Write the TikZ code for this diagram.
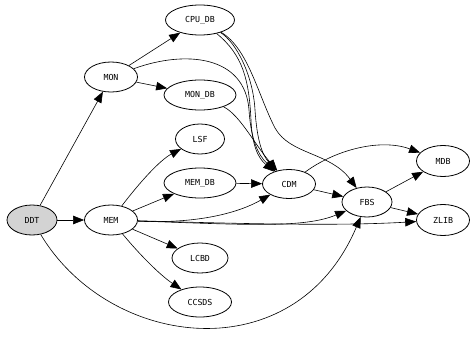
\documentclass[tikz,border=0pt]{standalone}
\usepackage{fontspec}
\usepackage{tikz}
\usetikzlibrary{arrows.meta,shapes.geometric}
\newfontfamily\modfont{DejaVu Sans Mono}
\definecolor{ddtgray}{RGB}{211,211,211}

\tikzset{
  mod/.style={ellipse,draw,line width=0.8pt,inner sep=0pt,font=\modfont\fontsize{8.3}{9}\selectfont,
    minimum height=30pt},
  dep/.style={line width=0.6pt,-{Triangle[length=11pt,width=8.5pt]}}
}

\begin{document}
\begin{tikzpicture}[x=1pt,y=-1pt]
\useasboundingbox (0,0) rectangle (474,340);
% modules
\node[mod,fill=ddtgray,minimum width=50pt] (DDT) at (32,220) {DDT};
\node[mod,minimum width=53pt] (MON) at (111,77) {MON};
\node[mod,minimum width=53pt] (MEM) at (111,220) {MEM};
\node[mod,minimum width=69pt] (CPU_DB) at (200,20) {CPU\_DB};
\node[mod,minimum width=72pt] (MON_DB) at (200,95) {MON\_DB};
\node[mod,minimum width=49pt] (LSF) at (200,139) {LSF};
\node[mod,minimum width=72pt] (MEM_DB) at (200,183) {MEM\_DB};
\node[mod,minimum width=56pt] (LCBD) at (200,258) {LCBD};
\node[mod,minimum width=63pt] (CCSDS) at (200,302) {CCSDS};
\node[mod,minimum width=53pt,minimum height=29pt] (CDM) at (289,184) {CDM};
\node[mod,minimum width=50pt] (FBS) at (367,202) {FBS};
\node[mod,minimum width=53pt,minimum height=31pt] (MDB) at (443,161) {MDB};
\node[mod,minimum width=53pt,minimum height=31pt] (ZLIB) at (443,220) {ZLIB};

% dependencies
\draw[dep] (DDT) -- (MON);
\draw[dep] (DDT) -- (MEM);
\draw[dep] (DDT) .. controls (110,350) and (295,372) .. (FBS);
\draw[dep] (MON) -- (CPU_DB);
\draw[dep] (MON) -- (MON_DB);
\draw[dep] (MON) .. controls (185,50) and (245,55) .. (249,110)
  .. controls (251,140) and (258,155) .. (CDM);
\draw[dep] (CPU_DB) .. controls (243,55) and (249,80) .. (251,120)
  .. controls (252,145) and (258,158) .. (CDM);
\draw[dep] (CPU_DB) .. controls (236,42) and (253,75) .. (255,110)
  .. controls (257,140) and (262,155) .. (CDM);
\draw[dep] (CPU_DB) .. controls (248,48) and (258,95) .. (275,128)
  .. controls (290,155) and (330,152) .. (FBS);
\draw[dep] (MON_DB) .. controls (240,115) and (255,145) .. (CDM);
\draw[dep] (MEM) .. controls (140,182) and (160,160) .. (LSF);
\draw[dep] (MEM) -- (MEM_DB);
\draw[dep] (MEM) .. controls (200,224) and (240,212) .. (CDM);
\draw[dep] (MEM) .. controls (250,225) and (305,228) .. (FBS);
\draw[dep] (MEM) .. controls (250,224) and (340,226) .. (ZLIB);
\draw[dep] (MEM) -- (LCBD);
\draw[dep] (MEM) .. controls (140,255) and (160,275) .. (CCSDS);
\draw[dep] (MEM_DB) -- (CDM);
\draw[dep] (CDM) -- (FBS);
\draw[dep] (CDM) .. controls (335,150) and (380,138) .. (MDB);
\draw[dep] (FBS) -- (MDB);
\draw[dep] (FBS) -- (ZLIB);
\end{tikzpicture}
\end{document}
